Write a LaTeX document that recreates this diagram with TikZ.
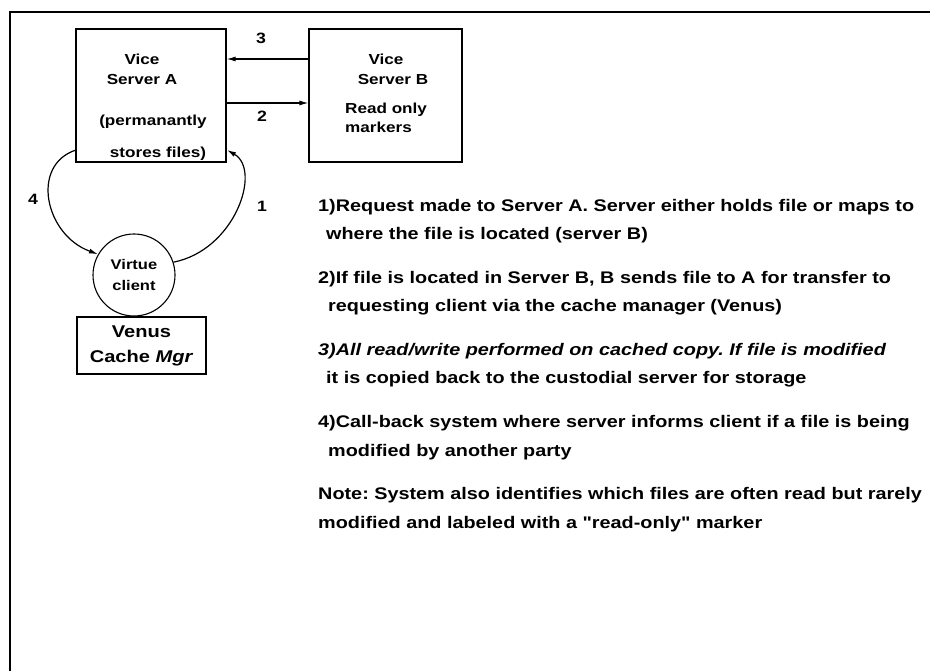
\documentclass[tikz,border=0pt]{standalone}
\usepackage{fontspec}
\setmainfont{Liberation Sans}[FakeStretch=1.18]
\newfontfamily\plainq{Liberation Sans}[FakeStretch=1.18]
\usetikzlibrary{arrows.meta}

\tikzset{
  srvbox/.style={draw, line width=1.1pt, minimum height=133pt, inner sep=0pt},
  boxtext/.style={font=\bfseries\fontsize{14.5}{20}\selectfont, inner sep=0pt},
  itemtext/.style={anchor=base west, align=left, font=\bfseries\fontsize{16.8}{28.5}\selectfont, inner sep=0pt},
  numlabel/.style={font=\bfseries\fontsize{15}{18}\selectfont, inner sep=0pt},
  flow/.style={line width=1.2pt, -{Latex[length=9pt,width=5pt]}},
}
\frenchspacing

\begin{document}
\begin{tikzpicture}[x=1pt,y=-1pt]
\useasboundingbox (0,0) rectangle (930,671);

% frame
\draw [line width=1.8pt] (930,12) -- (10,12) -- (10,671);

% servers
\node [srvbox, minimum width=150pt] (serverA) at (151,95.5) {};
\node [srvbox, minimum width=153pt] (serverB) at (385.5,95.5) {};

\node [boxtext, align=center] (srvAtxt) at (142,69) {Vice\\Server A};
\node [boxtext, align=center] (srvAnote) at (153,138) {(permanantly\\[12pt]\hspace*{10pt}stores files)};
\node [boxtext, align=center] (srvBtxt) at (386,69) {Vice\\\hspace*{14pt}Server B};
\node [boxtext, align=left, anchor=north west, font=\bfseries\fontsize{14.5}{19}\selectfont] (srvBnote) at (345,103) {Read only\\markers};

% client and cache manager
\node [draw, circle, line width=1.1pt, minimum size=82pt, inner sep=0pt,
       font=\bfseries\fontsize{14}{21}\selectfont, align=center] (client) at (134,275) {Virtue\\client};
\node [draw, line width=1.1pt, minimum width=129pt, minimum height=57pt, inner sep=0pt,
       font=\bfseries\fontsize{17}{25}\selectfont, align=center] (venus) at (141.5,345.5) {Venus\\Cache \textit{Mgr}};

% transfers between servers
\draw [flow] (serverB.west |- 0,59) -- (serverA.east |- 0,59);
\draw [flow] (serverA.east |- 0,103) -- (serverB.west |- 0,103);
\node [numlabel] (lbl3) at (261,38) {3};
\node [numlabel] (lbl2) at (262,116) {2};

% request / call-back loop
\coordinate (aleft) at (76,150);
\coordinate (aright) at (227,150);
\draw [flow] (client.18) .. controls (235,250) and (262,170) .. (aright);
\draw [flow] (aleft) .. controls (30,165) and (45,235) .. (client.150);
\node [numlabel] (lbl4) at (33,199) {4};
\node [numlabel] (lbl1) at (262,206) {1};

% explanation
\node [itemtext] (step1) at (318,240) {1)Request made to Server A. Server either holds file or maps to\\\hspace*{8pt}where the file is located (server B)};
\node [itemtext] (step2) at (318,312) {2)If file is located in Server B, B sends file to A for transfer to\\\hspace*{10pt}requesting client via the cache manager (Venus)};
\node [itemtext] (step3) at (318,384) {\itshape 3)All read/write performed on cached copy. If file is modified\\\hspace*{8pt}it is copied back to the custodial server for storage};
\node [itemtext] (step4) at (318,456) {4)Call-back system where server informs client if a file is being\\\hspace*{10pt}modified by another party};
\node [itemtext] (note) at (318,528) {Note: System also identifies which files are often read but rarely\\modified and labeled with a {\plainq"}read-only{\plainq"} marker};

\end{tikzpicture}
\end{document}
